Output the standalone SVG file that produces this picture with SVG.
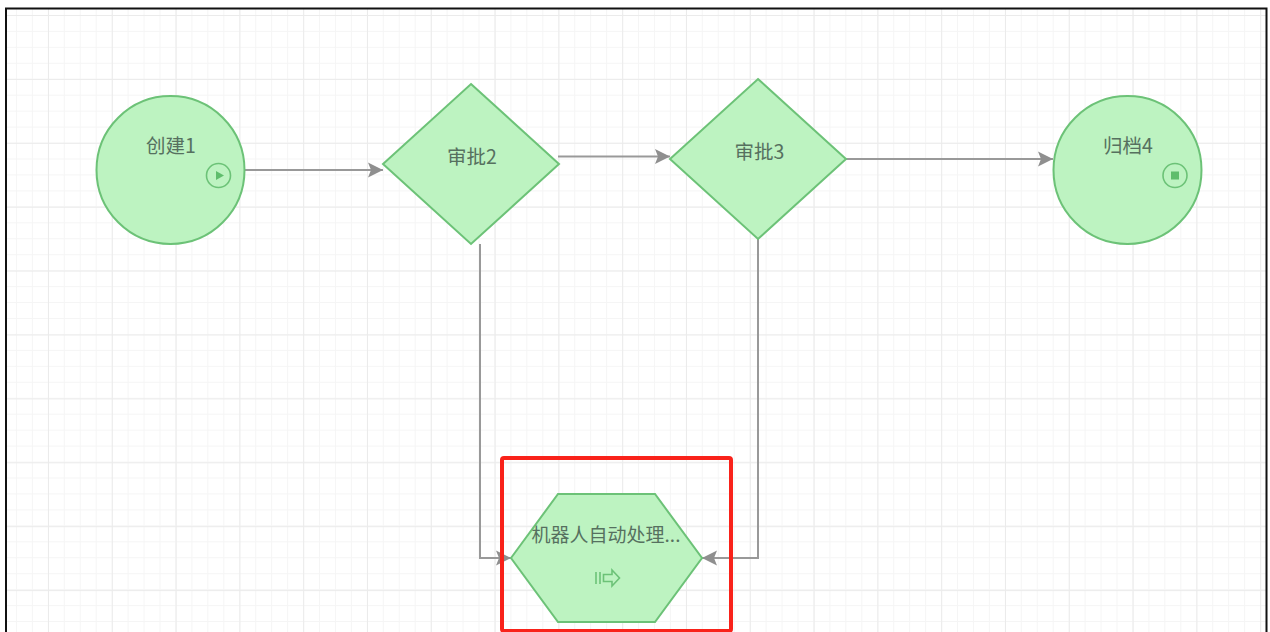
<svg xmlns="http://www.w3.org/2000/svg" width="1270" height="632" viewBox="0 0 1270 632">
<style>
.shape{fill:#bdf3c1;stroke:#6cc277;stroke-width:2}
.label{font-family:"Noto Sans CJK SC","Noto Sans",sans-serif;font-size:19.500px;fill:#56705f;text-anchor:middle}
.long{font-size:19px}
.edge{fill:none;stroke:#999;stroke-width:2}
.icon{fill:none;stroke:#6cc277;stroke-width:1.600}
.iconfill{fill:#5fbd6c}
.minor{fill:none;stroke:#f5f5f5;stroke-width:1}
.major{fill:none;stroke:#ebebeb;stroke-width:1}
</style>
<defs>
<marker id="arrow" markerUnits="userSpaceOnUse" markerWidth="16" markerHeight="16" refX="15" refY="8" orient="auto">
<path d="M0 0.500L15 8L0 15.500L3 8Z" fill="#8f8f8f"/>
</marker>
<pattern id="gridMinor" patternUnits="userSpaceOnUse" x="0" y="-1" width="15.95" height="15.95">
<path class="minor" d="M0.500 0V15.95M0 0.500H15.95"/>
</pattern>
<pattern id="gridMajor" patternUnits="userSpaceOnUse" x="48" y="15" width="63.8" height="63.9">
<path class="major" d="M0.500 0V63.9M0 0.500H63.8"/>
</pattern>
</defs>
<rect width="1270" height="632" fill="#fff"/>
<g id="grid">
<rect x="7" y="9" width="1259" height="623" fill="url(#gridMinor)"/>
<rect x="7" y="9" width="1259" height="623" fill="url(#gridMajor)"/>
</g>
<path id="frame" d="M6 632V8.500H1266.500V632" fill="none" stroke="#111" stroke-width="2"/>
<g id="connectors">
<path class="edge" d="M245 170H383" marker-end="url(#arrow)"/>
<path class="edge" d="M558 156.500H670" marker-end="url(#arrow)"/>
<path class="edge" d="M846 159H1053" marker-end="url(#arrow)"/>
<path class="edge" d="M480 244V558H511" marker-end="url(#arrow)"/>
<path class="edge" d="M758 239V558H702" marker-end="url(#arrow)"/>
</g>
<g id="node-create">
<circle class="shape" cx="170.500" cy="170" r="74"/>
<text class="label" x="171" y="153">创建1</text>
<circle class="icon" cx="218.500" cy="175.500" r="12"/>
<path class="iconfill" d="M216 171L224 175.500L216 180Z"/>
</g>
<g id="node-approve2">
<polygon class="shape" points="471,84 559,164 471,244 383,164"/>
<text class="label" x="472" y="164">审批2</text>
</g>
<g id="node-approve3">
<polygon class="shape" points="758,79 846,159 758,239 670,159"/>
<text class="label" x="759.500" y="159">审批3</text>
</g>
<g id="node-archive">
<circle class="shape" cx="1127.500" cy="170" r="74"/>
<text class="label" x="1128" y="153">归档4</text>
<circle class="icon" cx="1175" cy="175.500" r="12"/>
<rect class="iconfill" x="1171" y="171.500" width="8" height="8"/>
</g>
<g id="node-robot">
<polygon class="shape" points="511,558 558,494 655,494 702,558 655,622 558,622"/>
<text class="label long" x="606" y="542">机器人自动处理...</text>
<path class="icon" d="M596 572V584M600 572V584M603.500 574.500H612V570L619.500 578L612 586V581.500H603.500Z"/>
</g>
<rect id="highlight" x="502" y="458" width="229" height="173" rx="2" fill="none" stroke="#f9221a" stroke-width="4"/>
</svg>
